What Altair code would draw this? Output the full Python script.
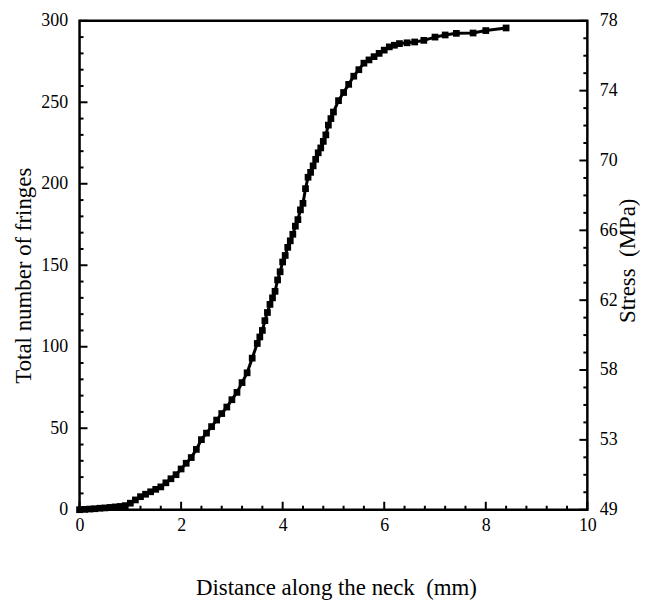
import altair as alt
import pandas as pd

# Data
dist_mm = [0, 0.1, 0.2, 0.3, 0.4, 0.5, 0.6, 0.7, 0.8, 0.9, 1.0, 1.1, 1.2, 1.3, 1.4, 1.5,
           1.6, 1.7, 1.8, 1.9, 2.0, 2.1, 2.2, 2.3, 2.4, 2.5, 2.6, 2.7, 2.8, 2.9, 3.0,
           3.1, 3.2, 3.3, 3.4, 3.5, 3.55, 3.6, 3.65, 3.7, 3.75, 3.8, 3.85, 3.9, 3.95,
           4.0, 4.05, 4.1, 4.15, 4.2, 4.25, 4.3, 4.35, 4.4, 4.45, 4.5, 4.55, 4.6, 4.65,
           4.7, 4.75, 4.8, 4.85, 4.9, 4.95, 5.0, 5.1, 5.2, 5.3, 5.4, 5.5, 5.6, 5.7,
           5.8, 5.9, 6.0, 6.1, 6.2, 6.3, 6.45, 6.6, 6.78, 7.0, 7.2, 7.42, 7.75, 8.0, 8.4]
fringes = [0, 0.2, 0.4, 0.6, 0.9, 1.1, 1.4, 1.7, 2, 2.5, 4, 6, 8, 9.5, 11, 12.5,
           14, 16.5, 19, 21.5, 25, 28.5, 32, 37, 43, 47, 51, 55, 59, 63, 67.5,
           72, 78, 84, 93, 102, 106, 110, 116, 121, 126, 130, 134, 141, 146,
           152, 156, 161, 165, 169, 174, 178, 184, 188, 197, 204, 207, 211, 215,
           219, 222, 226, 230, 236, 240, 244, 251, 256, 261, 266, 270, 274, 276,
           278, 280, 282, 284, 285, 286, 286.5, 287, 288, 290, 291.3, 292.3, 292.5, 294, 295.6]

left_major = [0, 50, 100, 150, 200, 250, 300]
left_minor = [v for v in range(0, 301, 10) if v % 50 != 0]
x_major = [0, 2, 4, 6, 8, 10]
x_minor = [round(i * 0.4, 2) for i in range(26) if round(i * 0.4, 2) % 2 != 0]
stress_labels = ["49", "53", "58", "62", "66", "70", "74", "78"]
stress_major = list(range(len(stress_labels)))
stress_minor = [i * 0.25 for i in range(29) if i % 4 != 0]

W, H = 511, 492
FONT = "Liberation Serif"
TFS = 23

df = pd.DataFrame({"x": dist_mm, "y": fringes})
xs = alt.Scale(domain=[0, 10], nice=False)
ys = alt.Scale(domain=[0, 300], nice=False)
rs = alt.Scale(domain=[0, 7], nice=False)

xaxis = alt.Axis(values=x_major, ticks=False, domain=False, grid=False, labelFlush=False,
                 labelFont=FONT, labelFontSize=18, labelColor="black", labelPadding=7,
                 title="Distance along the neck\u00a0\u00a0(mm)", titleFont=FONT, titleFontSize=TFS,
                 titleFontWeight="normal", titleColor="black", titleX=258, titleY=78,
                 titleBaseline="middle")
yaxis = alt.Axis(values=left_major, ticks=False, domain=False, grid=False, labelFlush=False,
                 labelFont=FONT, labelFontSize=18, labelColor="black", labelPadding=12,
                 title="Total number of fringes", titleFont=FONT, titleFontSize=TFS,
                 titleFontWeight="normal", titleColor="black", titleX=-56,
                 titleY=256, titleBaseline="middle")
raxis = alt.Axis(orient="right", values=stress_major, ticks=False, domain=False, grid=False,
                 labelFlush=False,
                 labelExpr="['49','53','58','62','66','70','74','78'][datum.value]",
                 labelFont=FONT, labelFontSize=18, labelColor="black", labelPadding=12,
                 title="Stress\u00a0\u00a0(MPa)", titleFont=FONT, titleFontSize=TFS, titleAngle=270,
                 titleFontWeight="normal", titleColor="black", titleX=40,
                 titleY=241, titleBaseline="middle")

line = alt.Chart(df).mark_line(color="black", strokeWidth=3).encode(
    x=alt.X("x:Q", scale=xs, axis=xaxis),
    y=alt.Y("y:Q", scale=ys, axis=yaxis),
)
pts = alt.Chart(df).mark_square(color="black", size=46, opacity=1).encode(
    x=alt.X("x:Q", scale=xs, axis=xaxis),
    y=alt.Y("y:Q", scale=ys, axis=yaxis),
)

def hticks(vals, length):
    return alt.Chart(pd.DataFrame({"y": vals})).mark_rule(color="black", strokeWidth=2).encode(
        y=alt.Y("y:Q", scale=ys, axis=yaxis),
        x=alt.value(0), x2=alt.value(length))

def rticks(vals, length):
    return alt.Chart(pd.DataFrame({"s": vals})).mark_rule(color="black", strokeWidth=2).encode(
        y=alt.Y("s:Q", scale=rs, axis=raxis),
        x=alt.value(W), x2=alt.value(W - length))

def bticks(vals, length):
    return alt.Chart(pd.DataFrame({"x": vals})).mark_rule(color="black", strokeWidth=2).encode(
        x=alt.X("x:Q", scale=xs, axis=xaxis),
        y=alt.value(H), y2=alt.value(H - length))

left_group = alt.layer(line, pts, hticks(left_major, 8), hticks(left_minor, 4),
                       bticks(x_major, 8), bticks(x_minor, 4))
right_group = alt.layer(rticks(stress_major, 8), rticks(stress_minor, 4))

chart = alt.layer(left_group, right_group).resolve_scale(y="independent").properties(
    width=W, height=H,
    autosize=alt.AutoSizeParams(type="none"),
    padding={"left": 72, "top": 11, "right": 55, "bottom": 92},
    background="white",
).configure_view(stroke="black", strokeWidth=2.5)

chart.save("out.html", embed_options={"renderer": "svg", "actions": False})
